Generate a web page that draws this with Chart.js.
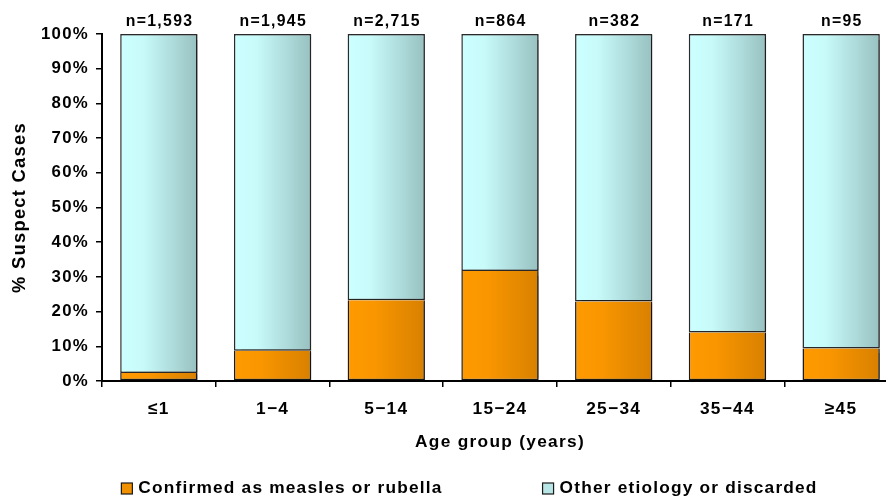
<!DOCTYPE html>
<html>
<head>
<meta charset="utf-8">
<script src="https://cdn.jsdelivr.net/npm/chart.js@4.4.1/dist/chart.umd.min.js"></script>
<style>
  html, body { margin: 0; padding: 0; background: #ffffff; overflow: hidden; }
  #wrap { width: 886px; height: 499px; overflow: hidden; position: relative; }
  canvas { display: block; }
</style>
</head>
<body>
<div id="wrap"><canvas id="c" width="912" height="499" style="width:912px;height:499px"></canvas></div>
<script>
// ---- data ----
const categories = ['\u22641', '1\u22124', '5\u221214', '15\u221224', '25\u221234', '35\u221244', '\u226545'];
const confirmedPct = [2.3, 8.7, 23.3, 31.7, 22.9, 14.0, 9.4];
const otherPct = [97.7, 91.3, 76.7, 68.3, 77.1, 86.0, 90.6];
const sampleSizes = ['n=1,593', 'n=1,945', 'n=2,715', 'n=864', 'n=382', 'n=171', 'n=95'];
const seriesNames = ['Confirmed as measles or rubella', 'Other etiology or discarded'];
const yAxisTitle = '% Suspect Cases';
const xAxisTitle = 'Age group (years)';

const FONT = "'Liberation Sans', Arial, Helvetica, sans-serif";
const BAR_PCT = 0.68;
const SPACING = '1.3px';

const orangeStops = [[0, '#FF9A00'], [0.35, '#F99600'], [1, '#D88000']];
const cyanStops = [[0, '#CCFFFF'], [0.3, '#C8FAFA'], [1, '#98C1C1']];
const legendFill = ['#F29100', '#B8E6E6'];

function gradientFor(stops, solid) {
  return function (ctx) {
    const chart = ctx.chart;
    const xs = chart.scales && chart.scales.x;
    if (!xs || ctx.type !== 'data' || !isFinite(xs.width) || xs.width <= 0) return solid;
    const cx = xs.getPixelForValue(ctx.dataIndex);
    const w = (xs.width / categories.length) * BAR_PCT;
    const g = chart.ctx.createLinearGradient(cx - w / 2, 0, cx + w / 2, 0);
    stops.forEach(s => g.addColorStop(s[0], s[1]));
    return g;
  };
}

const spacingPlugin = {
  id: 'spacing',
  beforeUpdate(chart) { chart.ctx.letterSpacing = SPACING; },
  beforeLayout(chart) { chart.ctx.letterSpacing = SPACING; },
  beforeDraw(chart) { chart.ctx.letterSpacing = SPACING; }
};

const shadowPlugin = {
  id: 'barShadow',
  beforeDatasetsDraw(chart) {
    const c = chart.ctx;
    c.save();
    c.shadowColor = 'rgba(0,0,0,0.35)';
    c.shadowOffsetX = 2;
    c.shadowOffsetY = 1;
    c.shadowBlur = 1.5;
  },
  afterDatasetsDraw(chart) { chart.ctx.restore(); }
};

const nLabelPlugin = {
  id: 'nLabels',
  afterDraw(chart) {
    const c = chart.ctx;
    const meta = chart.getDatasetMeta(chart.data.datasets.length - 1);
    c.save();
    c.letterSpacing = SPACING;
    c.font = 'bold 15.8px ' + FONT;
    c.fillStyle = '#000';
    c.textAlign = 'center';
    c.textBaseline = 'alphabetic';
    meta.data.forEach((el, i) => {
      c.fillText(sampleSizes[i], el.x + 0.7, 26);
    });
    c.restore();
  }
};

const legendPlugin = {
  id: 'customLegend',
  afterDraw(chart) {
    const c = chart.ctx;
    c.save();
    c.letterSpacing = '1.2px';
    c.font = 'bold 17.3px ' + FONT;
    const box = 11, gapText = 6, gapItems = 100;
    const widths = seriesNames.map(t => c.measureText(t).width);
    const total = widths[0] + widths[1] + 2 * (box + gapText) + gapItems;
    let x = 469.5 - total / 2;
    const baseY = 493;
    seriesNames.forEach((t, i) => {
      c.fillStyle = legendFill[i];
      c.fillRect(x, baseY - 10, box, box);
      c.strokeStyle = '#1a1a1a';
      c.lineWidth = 1.2;
      c.strokeRect(x, baseY - 10, box, box);
      c.fillStyle = '#000';
      c.textAlign = 'left';
      c.textBaseline = 'alphabetic';
      c.fillText(t, x + box + gapText, baseY);
      x += box + gapText + widths[i] + gapItems;
    });
    c.restore();
  }
};

new Chart(document.getElementById('c'), {
  type: 'bar',
  data: {
    labels: categories,
    datasets: [
      {
        label: seriesNames[0],
        data: confirmedPct,
        backgroundColor: gradientFor(orangeStops, '#F29100'),
        borderColor: '#1a1a1a',
        borderWidth: { left: 1.5, right: 1.5, top: 0, bottom: 1.5 },
        borderSkipped: false
      },
      {
        label: seriesNames[1],
        data: otherPct,
        backgroundColor: gradientFor(cyanStops, '#B8E6E6'),
        borderColor: '#2a2a2a',
        borderWidth: 1.5,
        borderSkipped: false
      }
    ]
  },
  options: {
    responsive: false,
    animation: false,
    devicePixelRatio: 1,
    categoryPercentage: 1,
    barPercentage: BAR_PCT,
    layout: { padding: { top: 34, right: 14, bottom: 38, left: 0 } },
    plugins: {
      legend: { display: false },
      tooltip: { enabled: false }
    },
    scales: {
      x: {
        stacked: true,
        border: { display: true, color: '#000', width: 2 },
        grid: { display: true, drawOnChartArea: false, drawTicks: true, tickLength: 6, color: '#000', lineWidth: 1.5, offset: true },
        ticks: { color: '#000', padding: 12, font: { family: FONT, size: 17.3, weight: 'bold' }, maxRotation: 0, autoSkip: false },
        title: { display: true, text: xAxisTitle, color: '#000', font: { family: FONT, size: 17.3, weight: 'bold' }, padding: { top: 0, bottom: 8 } },
        afterFit(scale) { scale.height = 80; }
      },
      y: {
        stacked: true,
        min: 0,
        max: 100,
        border: { display: true, color: '#000', width: 2 },
        grid: { display: true, drawOnChartArea: false, drawTicks: true, tickLength: 6, color: '#000', lineWidth: 1.5 },
        ticks: { stepSize: 10, color: '#000', padding: 7, font: { family: FONT, size: 16.8, weight: 'bold' }, callback: v => v + '%' },
        title: { display: true, text: yAxisTitle, color: '#000', font: { family: FONT, size: 18.3, weight: 'bold' }, padding: { top: 9, bottom: 0 } },
        afterFit(scale) { scale.width = 102; }
      }
    }
  },
  plugins: [spacingPlugin, shadowPlugin, nLabelPlugin, legendPlugin]
});
</script>
</body>
</html>
